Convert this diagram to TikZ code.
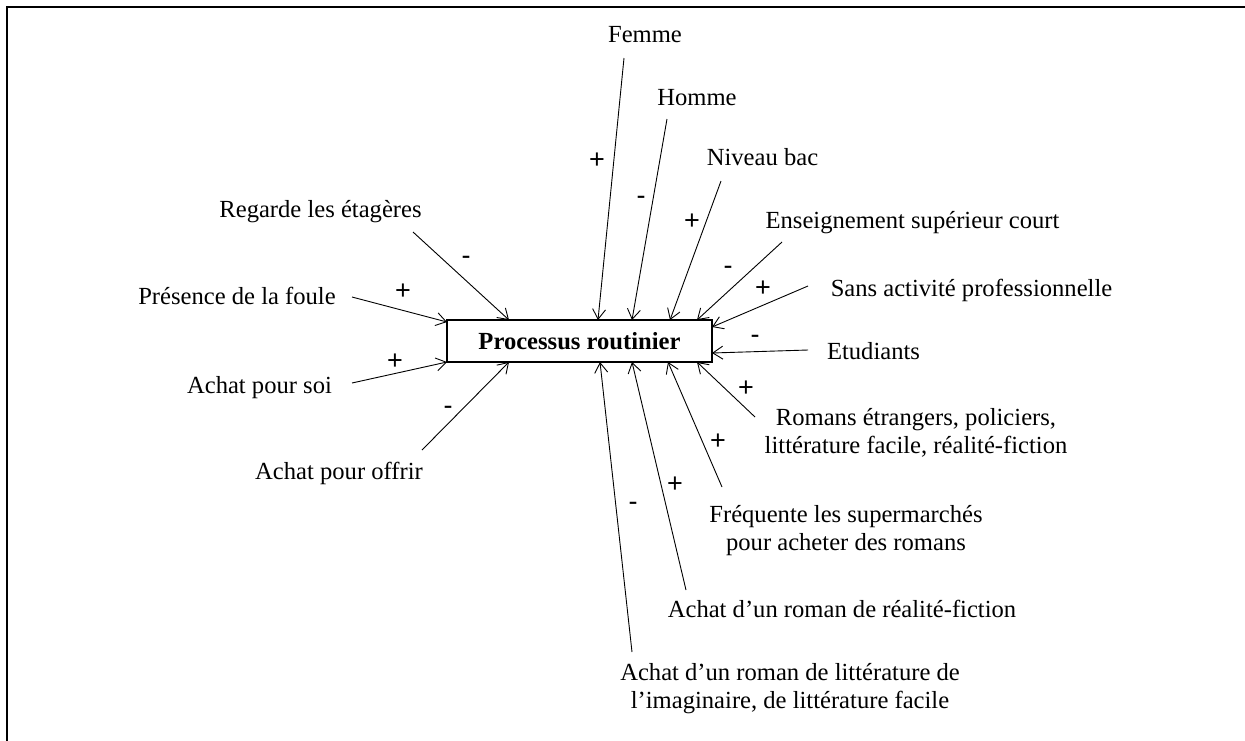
\documentclass[tikz,border=0pt]{standalone}
\usepackage{fontspec}
\setmainfont{Liberation Serif}
\newfontfamily\signfont{Liberation Sans}
\usetikzlibrary{arrows.meta}
\begin{document}
\begin{tikzpicture}[x=1pt,y=-1pt,
  lbl/.style={font=\fontsize{24.6}{28}\selectfont, inner sep=0pt, align=center, anchor=base},
  sgn/.style={font=\signfont\fontsize{27}{28}\selectfont, inner sep=0pt, anchor=base},
  arr/.style={line width=0.9pt, -{Straight Barb[length=10pt,width=13pt,line width=0.9pt]}},
  mainbox/.style={draw, line width=1.3pt, minimum width=265pt, minimum height=42pt, inner sep=0pt,
    font=\fontsize{24.6}{28}\selectfont\bfseries}
]
\useasboundingbox (0,0) rectangle (1245,740);
\draw[line width=2pt] (7.3,741) -- (7.3,7) -- (1246,7);

\node[mainbox] (box) at (579.5,341) {Processus routinier};

% labels (multi-line nodes: base = last line baseline)
\node[lbl] (femme) at (645,42) {Femme};
\node[lbl] (homme) at (697,105) {Homme};
\node[lbl] (bac) at (762.5,165) {Niveau bac};
\node[lbl] (ens) at (912.5,228) {Enseignement supérieur court};
\node[lbl] (sans) at (971.5,296) {Sans activité professionnelle};
\node[lbl] (etu) at (873.5,359) {Etudiants};
\node[lbl] (rom) at (916,453) {Romans étrangers, policiers,\\littérature facile, réalité-fiction};
\node[lbl] (freq) at (846,550) {Fréquente les supermarchés\\pour acheter des romans};
\node[lbl] (real) at (842,617) {Achat d’un roman de réalité-fiction};
\node[lbl] (litt) at (790,708) {Achat d’un roman de littérature de\\l’imaginaire, de littérature facile};
\node[lbl] (reg) at (320.5,217) {Regarde les étagères};
\node[lbl] (foule) at (237,304) {Présence de la foule};
\node[lbl] (soi) at (259.5,393) {Achat pour soi};
\node[lbl] (offr) at (339,479) {Achat pour offrir};

% connector start points
\coordinate (sFemme) at (624,58);
\coordinate (sHomme) at (667,119);
\coordinate (sBac) at (721,181);
\coordinate (sEns) at (782,242);
\coordinate (sSans) at (808,286);
\coordinate (sEtu) at (808,350);
\coordinate (sRom) at (755,417);
\coordinate (sFreq) at (722,487);
\coordinate (sReal) at (686,590);
\coordinate (sLitt) at (632,652);
\coordinate (sReg) at (413,232);
\coordinate (sFoule) at (352,297);
\coordinate (sSoi) at (352,383);
\coordinate (sOffr) at (422,450);

% connector end points on the box
\coordinate (eFemme) at (598,320);
\coordinate (eHomme) at (632,320);
\coordinate (eBac) at (670,320);
\coordinate (eEns) at (697,320);
\coordinate (eSans) at (712,327);
\coordinate (eEtu) at (712,353);
\coordinate (eRom) at (697,362);
\coordinate (eFreq) at (668,362);
\coordinate (eReal) at (632,362);
\coordinate (eLitt) at (600,362);
\coordinate (eReg) at (509,320);
\coordinate (eFoule) at (447,322);
\coordinate (eSoi) at (447,362);
\coordinate (eOffr) at (509,362);

\foreach \n in {Femme,Homme,Bac,Ens,Sans,Etu,Rom,Freq,Real,Litt,Reg,Foule,Soi,Offr}
  \draw[arr] (s\n) -- (e\n);

% signs
\node[sgn] (pFemme) at (597,168.5) {+};
\node[sgn] (mHomme) at (641,204) {-};
\node[sgn] (pBac) at (692,229.5) {+};
\node[sgn] (mEns) at (728,274) {-};
\node[sgn] (pSans) at (763,296.5) {+};
\node[sgn] (mEtu) at (755,343) {-};
\node[sgn] (pRom) at (746,396.5) {+};
\node[sgn] (pFreq) at (718,449.5) {+};
\node[sgn] (pReal) at (675,492.5) {+};
\node[sgn] (mLitt) at (633,510) {-};
\node[sgn] (mReg) at (466,264) {-};
\node[sgn] (pFoule) at (403,299.5) {+};
\node[sgn] (pSoi) at (395,369.5) {+};
\node[sgn] (mOffr) at (448,414) {-};
\end{tikzpicture}
\end{document}
